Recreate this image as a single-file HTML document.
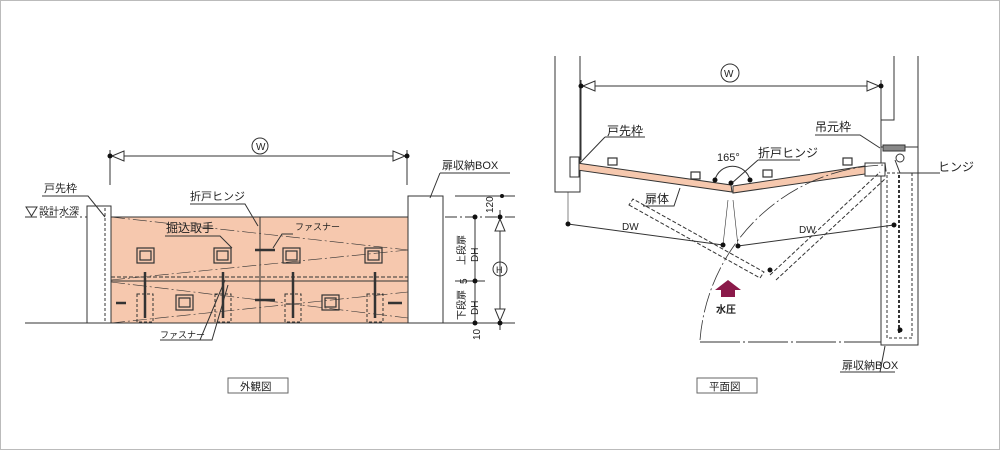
<!DOCTYPE html>
<html><head><meta charset="utf-8"><style>
html,body{margin:0;padding:0;background:#fff}
svg{display:block}
text{font-family:"Liberation Sans","Noto Sans CJK JP",sans-serif;fill:#222}
</style></head><body>
<svg width="1000" height="450" viewBox="0 0 1000 450" xmlns="http://www.w3.org/2000/svg">
<rect x="0.5" y="0.5" width="999" height="449" fill="#fff" stroke="#bbb"/>
<g stroke="#333" stroke-width="1" fill="none">
<line x1="110" y1="156" x2="407" y2="156"/>
<line x1="110" y1="150" x2="110" y2="185"/><line x1="407" y1="150" x2="407" y2="185"/>
<path d="M112,156 L124,151 L124,161 Z M405,156 L393,151 L393,161 Z" fill="#fff"/>
<circle cx="260" cy="146" r="8"/>
<line x1="25" y1="217" x2="515" y2="217" stroke-dasharray="12,3,2,3"/>
<rect x="111" y="217" width="297" height="106" fill="#f6c8ae" stroke="#333"/>
<line x1="111" y1="281" x2="408" y2="281"/>
<line x1="111" y1="277" x2="408" y2="277" stroke-dasharray="4,2"/>
<line x1="260" y1="217" x2="260" y2="323"/>
<line x1="111" y1="217" x2="408" y2="250" stroke-dasharray="14,3,2,3" stroke-width=".6"/>
<line x1="111" y1="280" x2="408" y2="250" stroke-dasharray="14,3,2,3" stroke-width=".6"/>
<line x1="111" y1="282" x2="408" y2="318" stroke-dasharray="14,3,2,3" stroke-width=".6"/>
<line x1="111" y1="323" x2="408" y2="292" stroke-dasharray="14,3,2,3" stroke-width=".6"/>
<rect x="87" y="206" width="24" height="117" fill="#fff"/>
<line x1="105" y1="208" x2="105" y2="323" stroke-dasharray="3,2"/>
<rect x="408" y="196" width="35" height="127" fill="#fff"/>
<line x1="25" y1="323" x2="515" y2="323"/>
<g stroke-width="1.2">
<rect x="137" y="248" width="17" height="15"/><rect x="140" y="251" width="11" height="9"/>
<rect x="214" y="248" width="17" height="15"/><rect x="217" y="251" width="11" height="9"/>
<rect x="283" y="248" width="17" height="15"/><rect x="286" y="251" width="11" height="9"/>
<rect x="365" y="248" width="17" height="15"/><rect x="368" y="251" width="11" height="9"/>
<rect x="176" y="295" width="17" height="15"/><rect x="179" y="298" width="11" height="9"/>
<rect x="322" y="295" width="17" height="15"/><rect x="325" y="298" width="11" height="9"/>
</g>
<g stroke-dasharray="3,2">
<rect x="137" y="294" width="16" height="28"/><rect x="215" y="294" width="16" height="28"/>
<rect x="285" y="294" width="16" height="28"/><rect x="367" y="294" width="16" height="28"/>
</g>
<g stroke-width="2.5">
<line x1="145" y1="272" x2="145" y2="318"/><line x1="223" y1="272" x2="223" y2="318"/>
<line x1="293" y1="272" x2="293" y2="318"/><line x1="375" y1="272" x2="375" y2="318"/>
<line x1="255" y1="250" x2="275" y2="250"/><line x1="255" y1="300" x2="275" y2="300"/>
<line x1="116" y1="303" x2="126" y2="303"/><line x1="388" y1="303" x2="402" y2="303"/>
</g>
<path d="M42,196 L88,196 L105,217"/>
<path d="M165,236 L220,236 L232,248"/>
<path d="M190,204 L245,204 L258,226"/>
<path d="M293,234 L282,234 L273,248"/>
<path d="M160,340 L200,340 L225,280 M200,340 L212,340 L228,285"/>
<path d="M440,173 L510,173 M440,173 L430,198"/>
<path d="M26,207 L37,207 L31.5,216 Z" fill="#fff"/>
<line x1="455" y1="196" x2="515" y2="196"/>
<line x1="455" y1="281" x2="485" y2="281"/>
<line x1="475" y1="217" x2="475" y2="323"/>
<line x1="500" y1="210" x2="500" y2="330"/>
<path d="M500,219 L495,231 L505,231 Z M500,321 L495,309 L505,309 Z" fill="#fff"/>
<circle cx="500" cy="269" r="7"/>
<rect x="228" y="378" width="60" height="15" stroke="#666"/>
<rect x="697" y="378" width="60" height="15" stroke="#666"/>
<path d="M555,56 L555,192 L580,192 L580,56"/>
<line x1="581" y1="86" x2="881" y2="86"/>
<line x1="581" y1="80" x2="581" y2="160"/><line x1="881" y1="80" x2="881" y2="150"/>
<path d="M583,86 L595,81 L595,91 Z M879,86 L867,81 L867,91 Z" fill="#fff"/>
<circle cx="730" cy="73" r="9"/>
<path d="M881,86 L881,120 L894,120 L894,56 M918,56 L918,147"/>
<rect x="881" y="147" width="37" height="198" fill="#fff"/>
<rect x="887" y="173" width="25" height="165" stroke-dasharray="3,2"/>
<line x1="899" y1="175" x2="899" y2="335" stroke-dasharray="3,2" stroke-width="2"/>
<rect x="883" y="145" width="22" height="6" fill="#888"/>
<circle cx="900" cy="158" r="4"/>
<path d="M577,163 L731,185 L732,192 L577,170 Z" fill="#f6c8ae"/>
<path d="M733,186 L885,163 L886,171 L733,193 Z" fill="#f6c8ae"/>
<rect x="570" y="157" width="9" height="20" fill="#fff"/>
<rect x="865" y="163" width="20" height="13" fill="#fff"/>
<g stroke-width="1.2">
<rect x="608" y="158" width="9" height="7"/><rect x="691" y="172" width="9" height="7"/>
<rect x="763" y="170" width="9" height="7"/><rect x="843" y="158" width="9" height="7"/>
</g>
<path d="M715,180 A18,18 0 0 1 750,180"/>
<path d="M629,205 L760,278 L764,272 L633,199 Z" stroke-dasharray="4,2"/>
<path d="M770,275 L880,172 M776,280 L886,178" stroke-dasharray="4,2"/>
<line x1="568" y1="224" x2="723" y2="245"/>
<line x1="738" y1="246" x2="894" y2="225"/>
<line x1="568" y1="192" x2="568" y2="224" stroke-width=".6"/>
<path d="M723,245 L728,200 M738,246 L733,200" stroke-width=".6"/>
<path d="M700,340 A190,190 0 0 1 885,165" stroke-dasharray="20,3,2,3" stroke-width=".8"/>
<line x1="700" y1="342" x2="881" y2="342" stroke-dasharray="40,3,2,3"/>
<path d="M605,137 L645,137 M605,137 L580,163"/>
<path d="M758,160 L800,160 M758,160 L732,183"/>
<path d="M643,206 L674,206 L680,188"/>
<path d="M815,135 L860,135 L880,148"/>
<path d="M940,173 L900,173 L895,160"/>
<path d="M840,372 L895,372 M880,372 L885,346"/>
</g>
<g fill="#111">
<circle cx="110" cy="156" r="2.5"/><circle cx="407" cy="156" r="2.5"/>
<circle cx="475" cy="217" r="2.5"/><circle cx="475" cy="281" r="2.5"/><circle cx="475" cy="323" r="2.5"/>
<circle cx="500" cy="217" r="2.5"/><circle cx="500" cy="323" r="2.5"/><circle cx="502" cy="196" r="2"/>
<circle cx="581" cy="86" r="2.5"/><circle cx="881" cy="86" r="2.5"/>
<circle cx="568" cy="224" r="2.5"/><circle cx="723" cy="245" r="2.5"/><circle cx="738" cy="246" r="2.5"/>
<circle cx="894" cy="225" r="2.5"/><circle cx="715" cy="180" r="2.5"/><circle cx="750" cy="180" r="2.5"/>
<circle cx="731" cy="183" r="2.5"/><circle cx="770" cy="270" r="2.5"/><circle cx="900" cy="330" r="2.5"/>
</g>
<path d="M721,297 L721,290 L715,290 L728,280 L741,290 L735,290 L735,297 Z" fill="#8b1a4a"/>
<g font-size="11">
<text x="44" y="192">戸先枠</text>
<text x="39" y="215" font-size="10">設計水深</text>
<text x="190" y="200">折戸ヒンジ</text>
<text x="166" y="232" font-size="12">掘込取手</text>
<text x="295" y="230" font-size="9">ファスナー</text>
<text x="160" y="338" font-size="9">ファスナー</text>
<text x="442" y="169">扉収納BOX</text>
<text x="256" y="150" font-size="10">W</text>
<text x="496" y="273" font-size="9">H</text>
<text x="240" y="390" font-size="10.5">外観図</text>
<text x="709" y="390" font-size="10.5">平面図</text>
<text x="724" y="77" font-size="10">W</text>
<text x="607" y="135" font-size="12">戸先枠</text>
<text x="717" y="161">165°</text>
<text x="758" y="157" font-size="12">折戸ヒンジ</text>
<text x="645" y="203" font-size="12">扉体</text>
<text x="622" y="230" font-size="10">DW</text>
<text x="799" y="233" font-size="10">DW</text>
<text x="815" y="131" font-size="12">吊元枠</text>
<text x="938" y="171" font-size="12">ヒンジ</text>
<text x="842" y="369">扉収納BOX</text>
<text x="716" y="313" font-size="10" font-weight="bold">水圧</text>
<text transform="translate(493,213) rotate(-90)" font-size="10">120</text>
<text transform="translate(465,265) rotate(-90)" font-size="10">上段扉</text>
<text transform="translate(478,262) rotate(-90)" font-size="10">DH</text>
<text transform="translate(467,284) rotate(-90)" font-size="10">5</text>
<text transform="translate(465,320) rotate(-90)" font-size="10">下段扉</text>
<text transform="translate(478,315) rotate(-90)" font-size="10">DH</text>
<text transform="translate(480,340) rotate(-90)" font-size="10">10</text>
</g>
</svg>
</body></html>
